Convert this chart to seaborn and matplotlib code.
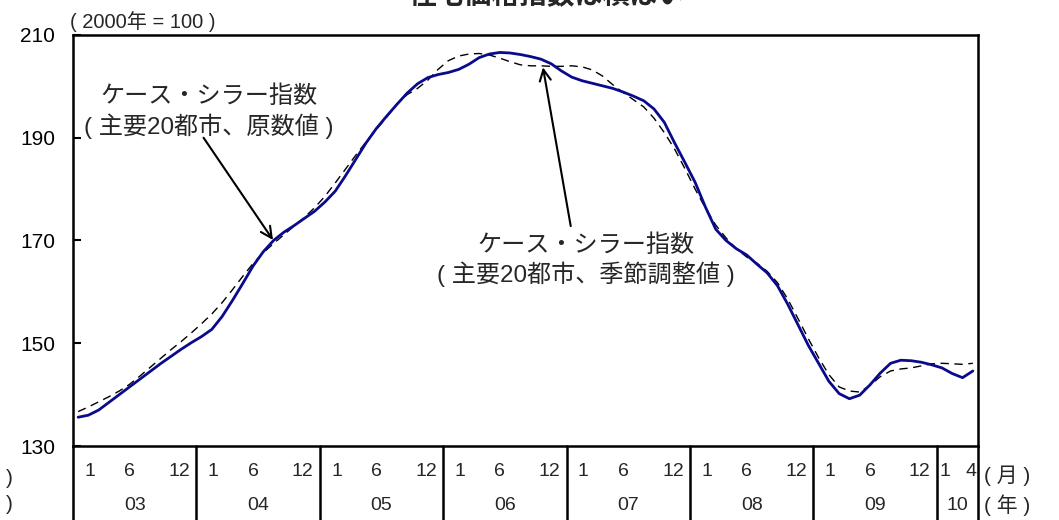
import matplotlib
matplotlib.use('Agg')
import matplotlib.pyplot as plt
import matplotlib.transforms as mtransforms
import numpy as np
import pandas as pd
import seaborn as sns

# Case-Shiller 20-city composite, monthly 2003-01 .. 2010-04 (2000 = 100)
years = ['03', '04', '05', '06', '07', '08', '09', '10']
months_per_year = [12, 12, 12, 12, 12, 12, 12, 4]

nsa = [135.6, 136.0, 137.0, 138.5, 140.0, 141.5, 143.0, 144.5, 146.0, 147.4, 148.8, 150.1,
       151.3, 152.7, 155.2, 158.3, 161.6, 165.0, 167.8, 170.0, 171.6, 172.9, 174.3, 175.7,
       177.5, 179.6, 182.6, 185.8, 189.0, 191.8, 194.2, 196.5, 198.7, 200.5, 201.7, 202.3,
       202.7, 203.3, 204.3, 205.6, 206.3, 206.6, 206.5, 206.2, 205.8, 205.3, 204.4, 203.0,
       201.8, 201.1, 200.6, 200.1, 199.6, 198.9, 198.1, 197.2, 195.6, 193.0, 189.0, 185.2,
       181.3, 176.5, 172.2, 170.0, 168.4, 167.2, 165.4, 163.7, 161.2, 157.6, 153.6, 149.6,
       146.1, 142.6, 140.2, 139.2, 139.9, 141.9, 144.2, 146.1, 146.7, 146.6, 146.3, 145.8,
       145.2, 144.1, 143.3, 144.6]

sa = [136.7, 137.6, 138.6, 139.6, 140.7, 142.0, 143.6, 145.3, 147.0, 148.7, 150.3, 152.0,
      153.8, 155.7, 157.9, 160.4, 163.0, 165.5, 167.6, 169.4, 171.1, 172.8, 174.5, 176.4,
      178.6, 181.2, 183.9, 186.6, 189.2, 191.6, 194.0, 196.6, 198.4, 199.6, 201.2, 203.3,
      205.0, 205.9, 206.3, 206.4, 206.1, 205.5, 204.8, 204.2, 204.0, 204.0, 203.9, 203.9,
      204.0, 203.8, 203.2, 202.0, 200.3, 198.8, 197.4, 196.0, 193.8, 191.0, 187.8, 184.0,
      180.0, 176.3, 173.0, 170.5, 168.4, 166.8, 165.6, 164.0, 161.8, 158.6, 154.8, 150.9,
      147.2, 143.9, 141.5, 140.7, 140.5, 141.8, 143.5, 144.6, 145.0, 145.2, 145.6, 146.0,
      146.1, 146.0, 145.9, 146.1]

y_ticks = [130, 150, 170, 190, 210]

sns.set_theme(style='white')
plt.rcParams['font.family'] = ['Liberation Sans', 'Noto Sans CJK JP']

n = len(nsa)
df = pd.DataFrame({'month': np.arange(n), 'nsa': nsa, 'sa': sa})

fig, ax = plt.subplots(figsize=(10.59, 5.2), dpi=100)
fig.subplots_adjust(left=0.0689, right=0.9235, top=0.9327, bottom=0.1423)

sns.lineplot(data=df, x='month', y='sa', ax=ax, color='black', lw=1.0,
             linestyle=(0, (6, 4)))
sns.lineplot(data=df, x='month', y='nsa', ax=ax, color='#0a0a8c', lw=2.0)

ax.set_xlim(-0.5, n - 0.5)
ax.set_ylim(130, 210)
ax.set_yticks(y_ticks)
ax.set_xticks([])
ax.set_xlabel('')
ax.set_ylabel('')
ax.tick_params(axis='y', direction='in', length=6, width=1.5, pad=13,
               labelsize=15, colors='black', left=True)
for s in ax.spines.values():
    s.set_color('black')
    s.set_linewidth(1.8)

# category axis below the plot: month labels, year labels and separators
tr = mtransforms.blended_transform_factory(ax.transData, ax.transAxes)
bounds = np.concatenate([[0], np.cumsum(months_per_year)])
lab_fs = 14
for k, yr in enumerate(years):
    b0, b1 = bounds[k] - 0.5, bounds[k + 1] - 0.5
    ax.plot([b0, b0], [0, -0.19], transform=tr, clip_on=False, color='black', lw=1.8)
    ax.text((b0 + b1) / 2, -0.145, yr, transform=tr, ha='center', va='center', fontsize=lab_fs)
    if months_per_year[k] == 12:
        ax.text(b0 + 1.1, -0.063, '1', transform=tr, ha='left', va='center', fontsize=lab_fs)
        ax.text(bounds[k] + 5, -0.063, '6', transform=tr, ha='center', va='center', fontsize=lab_fs)
        ax.text(b1 - 0.6, -0.063, '12', transform=tr, ha='right', va='center', fontsize=lab_fs)
    else:
        ax.text(b0 + 0.3, -0.063, '1', transform=tr, ha='left', va='center', fontsize=lab_fs)
        ax.text(b1 - 0.1, -0.063, str(months_per_year[k]), transform=tr, ha='right',
                va='center', fontsize=lab_fs)
ax.plot([n - 0.5, n - 0.5], [0, -0.19], transform=tr, clip_on=False, color='black', lw=1.8)

ax.text(1.007, -0.073, '( 月 )', transform=ax.transAxes, ha='left', va='center', fontsize=15)
ax.text(1.007, -0.144, '( 年 )', transform=ax.transAxes, ha='left', va='center', fontsize=15)
fig.text(0.006, 1 - 478 / 520, ')', ha='left', va='center', fontsize=15)
fig.text(0.006, 1 - 505 / 520, ')', ha='left', va='center', fontsize=15)

fig.text(70 / 1059, 1 - 22 / 520, '( 2000年 = 100 )', ha='left', va='center', fontsize=14.5)
fig.text(547 / 1059, 1 - 9 / 520, '住宅価格指数は横ばい', ha='center', va='bottom',
         fontsize=20, fontweight='bold')

# annotations
ax.text(12.7, 195.0, 'ケース・シラー指数\n( 主要20都市、原数値 )', ha='center', va='center',
        fontsize=17.4, linespacing=1.25)
ax.annotate('', xy=(18.95, 170.1), xytext=(12.2, 190.0),
            arrowprops=dict(arrowstyle='->', color='black', lw=1.5,
                            shrinkA=0, shrinkB=0, mutation_scale=20))
ax.text(49.4, 166.1, 'ケース・シラー指数\n( 主要20都市、季節調整値 )', ha='center', va='center',
        fontsize=17.4, linespacing=1.25)
ax.annotate('', xy=(45.2, 203.7), xytext=(47.9, 172.8),
            arrowprops=dict(arrowstyle='->', color='black', lw=1.5,
                            shrinkA=0, shrinkB=0, mutation_scale=20))

plt.savefig('out.png', dpi=100)
